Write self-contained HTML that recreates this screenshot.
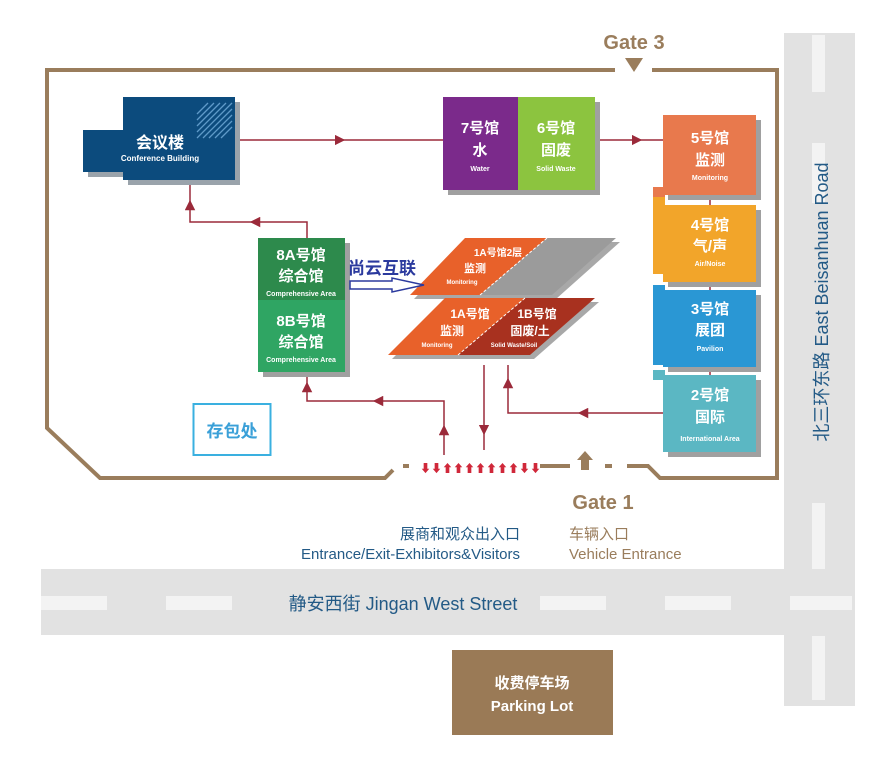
<!DOCTYPE html>
<html><head><meta charset="utf-8"><style>
html,body{margin:0;padding:0;background:#fff;}
svg{display:block;}
text{font-family:"Liberation Sans","Noto Sans CJK SC",sans-serif;}
</style></head><body>
<svg width="875" height="764" viewBox="0 0 875 764" xmlns="http://www.w3.org/2000/svg">
<defs>
<marker id="a" viewBox="0 0 10 10" refX="5" refY="5" markerWidth="7" markerHeight="7" orient="auto"><path d="M0,0 L10,5 L0,10 z" fill="#9b2a3a"/></marker>
</defs>
<!-- roads -->
<rect x="41" y="569" width="814" height="66" fill="#e2e2e2"/>
<rect x="784" y="33" width="71" height="673" fill="#e2e2e2"/>
<g fill="#f3f3f3">
<rect x="41" y="596" width="66" height="14"/><rect x="166" y="596" width="66" height="14"/>
<rect x="540" y="596" width="66" height="14"/><rect x="665" y="596" width="66" height="14"/>
<rect x="790" y="596" width="62" height="14"/>
<rect x="812" y="35" width="13" height="57"/><rect x="812" y="143" width="13" height="60"/>
<rect x="812" y="503" width="13" height="66"/><rect x="812" y="636" width="13" height="64"/>
</g>
<text x="403" y="610" font-size="18" fill="#235a86" text-anchor="middle">静安西街 Jingan West Street</text>
<text transform="translate(828,302) rotate(-90)" font-size="18" fill="#235a86" text-anchor="middle">北三环东路 East Beisanhuan Road</text>
<!-- border -->
<g fill="none" stroke="#9a7d5c" stroke-width="4">
<path d="M615,70 L47,70 L47,428 L100,478 L385,478 L393,470"/>
<path d="M652,70 L777,70 L777,478 L660,478 L648,466 L627,466"/>
<path d="M540,466 L570,466"/>
</g>
<rect x="403" y="464" width="6" height="4" fill="#9a7d5c"/>
<rect x="605" y="464" width="7" height="4" fill="#9a7d5c"/>
<path d="M585,451 L593,460 L589,460 L589,470 L581,470 L581,460 L577,460 z" fill="#9a7d5c"/>
<path d="M625,58 L643,58 L634,72 z" fill="#9a7d5c"/>
<text x="634" y="49" font-size="20" font-weight="bold" fill="#9a7d5c" text-anchor="middle">Gate 3</text>
<text x="603" y="509" font-size="20" font-weight="bold" fill="#9a7d5c" text-anchor="middle">Gate 1</text>
<!-- small red arrows -->
<g fill="#d0283a" font-size="11" font-weight="bold">
<text x="420" y="472">⬇⬇⬆⬆⬆⬆⬆⬆⬆⬇⬇</text>
</g>
<text x="520" y="539" font-size="15" fill="#235a86" text-anchor="end">展商和观众出入口</text>
<text x="520" y="559" font-size="15" fill="#235a86" text-anchor="end">Entrance/Exit-Exhibitors&amp;Visitors</text>
<text x="569" y="539" font-size="15" fill="#9a7d5c">车辆入口</text>
<text x="569" y="559" font-size="15" fill="#9a7d5c">Vehicle Entrance</text>
<!-- connectors -->
<g fill="none" stroke="#9b2a3a" stroke-width="1.5">
<path d="M237,140 L340,140" marker-end="url(#a)"/><path d="M340,140 L443,140"/>
<path d="M595,140 L637,140" marker-end="url(#a)"/><path d="M637,140 L663,140"/>
<path d="M307,238 L307,222 L255,222" marker-end="url(#a)"/><path d="M255,222 L190,222 L190,205" marker-end="url(#a)"/><path d="M190,205 L190,182"/>
<path d="M444,455 L444,430" marker-end="url(#a)"/><path d="M444,430 L444,401 L378,401" marker-end="url(#a)"/><path d="M378,401 L307,401 L307,387" marker-end="url(#a)"/><path d="M307,387 L307,372"/>
<path d="M484,365 L484,430" marker-end="url(#a)"/><path d="M484,430 L484,450"/>
<path d="M663,413 L583,413" marker-end="url(#a)"/><path d="M583,413 L508,413 L508,383" marker-end="url(#a)"/><path d="M508,383 L508,365"/>
<path d="M710,195 L710,205 M710,282 L710,290 M710,367 L710,375"/>
</g>
<!-- conference building -->
<g fill="#9aa3ab"><rect x="128" y="102" width="112" height="83"/><rect x="88" y="135" width="40" height="42"/></g>
<rect x="123" y="97" width="112" height="83" fill="#0c4b7d"/>
<rect x="83" y="130" width="45" height="42" fill="#0c4b7d"/>
<g stroke="#5f9ac9" stroke-width="1.3">
<path d="M197,138 L232,103 M203,138 L232,109 M209,138 L232,115 M215,138 L232,121 M221,138 L232,127 M197,132 L226,103 M197,126 L220,103 M197,120 L214,103 M197,114 L208,103"/>
</g>
<text x="160" y="148" font-size="16" font-weight="bold" fill="#fff" text-anchor="middle">会议楼</text>
<text x="160" y="161" font-size="8" font-weight="bold" fill="#fff" text-anchor="middle">Conference Building</text>
<!-- 7 & 6 -->
<rect x="448" y="102" width="152" height="93" fill="#a0a0a0"/>
<rect x="443" y="97" width="75" height="93" fill="#7b2a8b"/>
<rect x="518" y="97" width="77" height="93" fill="#8cc43f"/>
<g fill="#fff" text-anchor="middle" font-weight="bold">
<text x="480" y="133" font-size="15">7号馆</text><text x="480" y="155" font-size="15">水</text><text x="480" y="171" font-size="7">Water</text>
<text x="556" y="133" font-size="15">6号馆</text><text x="556" y="155" font-size="15">固废</text><text x="556" y="171" font-size="7">Solid Waste</text>
</g>
<!-- right column -->
<g fill="#a0a0a0"><rect x="668" y="120" width="93" height="80"/><rect x="668" y="210" width="93" height="77"/><rect x="668" y="295" width="93" height="77"/><rect x="668" y="380" width="93" height="77"/></g>
<rect x="663" y="115" width="93" height="80" fill="#e8794d"/><rect x="653" y="187" width="12" height="13" fill="#e8794d"/>
<rect x="663" y="205" width="93" height="77" fill="#f2a52a"/><rect x="653" y="197" width="12" height="77" fill="#f2a52a"/>
<rect x="663" y="290" width="93" height="77" fill="#2a97d4"/><rect x="653" y="285" width="12" height="80" fill="#2a97d4"/>
<rect x="663" y="375" width="93" height="77" fill="#5bb7c3"/><rect x="653" y="370" width="12" height="10" fill="#5bb7c3"/>
<g fill="#fff" text-anchor="middle" font-weight="bold">
<text x="710" y="143" font-size="15">5号馆</text><text x="710" y="165" font-size="15">监测</text><text x="710" y="180" font-size="7">Monitoring</text>
<text x="710" y="230" font-size="15">4号馆</text><text x="710" y="251" font-size="15">气/声</text><text x="710" y="266" font-size="7">Air/Noise</text>
<text x="710" y="314" font-size="15">3号馆</text><text x="710" y="335" font-size="15">展团</text><text x="710" y="351" font-size="7">Pavilion</text>
<text x="710" y="400" font-size="15">2号馆</text><text x="710" y="422" font-size="15">国际</text><text x="710" y="441" font-size="7">International Area</text>
</g>
<!-- 8A 8B -->
<rect x="263" y="243" width="87" height="134" fill="#a0a0a0"/>
<rect x="258" y="238" width="87" height="62" fill="#2d8a4c"/>
<rect x="258" y="300" width="87" height="72" fill="#2fa563"/>
<g fill="#fff" text-anchor="middle" font-weight="bold">
<text x="301" y="260" font-size="15">8A号馆</text><text x="301" y="281" font-size="15">综合馆</text><text x="301" y="296" font-size="7">Comprehensive Area</text>
<text x="301" y="326" font-size="15">8B号馆</text><text x="301" y="347" font-size="15">综合馆</text><text x="301" y="362" font-size="7">Comprehensive Area</text>
</g>
<!-- parallelograms -->
<polygon points="414,299 469,242 620,242 556,299" fill="#a8a8a8"/>
<polygon points="410,295 465,238 547,238 480,295" fill="#e8612a"/>
<polygon points="480,295 547,238 616,238 552,295" fill="#9b9b9b"/>
<polygon points="392,359 449,302 599,302 534,359" fill="#a8a8a8"/>
<polygon points="388,355 445,298 525,298 458,355" fill="#e8612a"/>
<polygon points="458,355 525,298 595,298 530,355" fill="#a8311f"/>
<g stroke="#fff" stroke-width="1" stroke-dasharray="3,2"><path d="M547,238 L480,295"/><path d="M525,298 L458,355"/></g>
<g fill="#fff" text-anchor="middle" font-weight="bold">
<text x="498" y="256" font-size="10">1A号馆2层</text><text x="475" y="272" font-size="11">监测</text><text x="462" y="284" font-size="6">Monitoring</text>
<text x="470" y="318" font-size="12">1A号馆</text><text x="452" y="335" font-size="12">监测</text><text x="437" y="347" font-size="6">Monitoring</text>
<text x="537" y="318" font-size="12">1B号馆</text><text x="530" y="335" font-size="12">固废/土</text><text x="514" y="347" font-size="6">Solid Waste/Soil</text>
</g>
<!-- annotation -->
<text x="348" y="274" font-size="17" font-weight="bold" fill="#2b3a9e">尚云互联</text>
<path d="M350,281 L392,281 L392,278 L424,285 L392,292 L392,289 L350,289 z" fill="none" stroke="#2b3a9e" stroke-width="1.5"/>
<!-- storage -->
<rect x="193.5" y="404" width="77" height="51" fill="#fff" stroke="#3ab0e0" stroke-width="2"/>
<text x="232" y="437" font-size="17" font-weight="bold" fill="#3aa0d8" text-anchor="middle">存包处</text>
<!-- parking -->
<rect x="452" y="650" width="161" height="85" fill="#9a7a56"/>
<text x="532" y="688" font-size="15" font-weight="bold" fill="#fff" text-anchor="middle">收费停车场</text>
<text x="532" y="711" font-size="15" font-weight="bold" fill="#fff" text-anchor="middle">Parking Lot</text>
</svg>
</body></html>
